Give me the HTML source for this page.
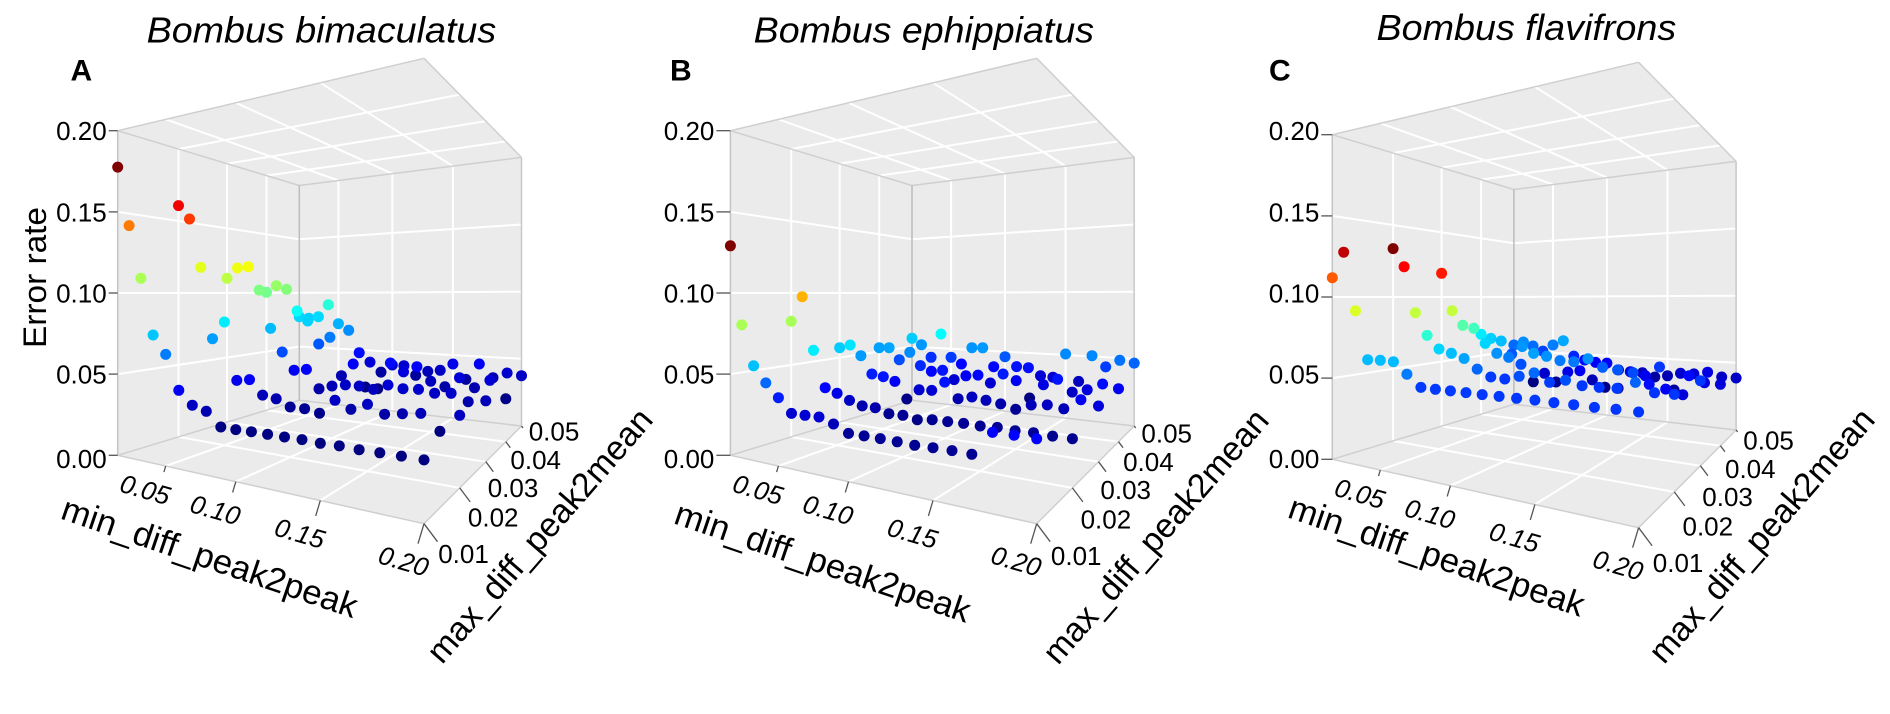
<!DOCTYPE html>
<html lang="en">
<head>
<meta charset="utf-8">
<title>Bombus error rate 3D scatter plots</title>
<style>
html,body{margin:0;padding:0;background:#fff;width:1890px;height:714px;overflow:hidden}
svg{display:block}
text{font-family:"Liberation Sans",sans-serif;fill:#000}
</style>
</head>
<body>
<svg id="figure" xmlns="http://www.w3.org/2000/svg" width="1890" height="714" viewBox="0 0 1890 714">
  <rect x="0" y="0" width="1890" height="714" fill="#fff"/>
  <g id="panel-a"></g>
  <g id="panel-b"></g>
  <g id="panel-c"></g>
  <text x="146.6" y="42.7" font-size="36" font-style="italic" textLength="349.6" lengthAdjust="spacingAndGlyphs">Bombus bimaculatus</text>
  <text x="753.7" y="42.7" font-size="36" font-style="italic" textLength="340.3" lengthAdjust="spacingAndGlyphs">Bombus ephippiatus</text>
  <text x="1376.5" y="40" font-size="36" font-style="italic" textLength="299.7" lengthAdjust="spacingAndGlyphs">Bombus flavifrons</text>
  <text x="70.5" y="80.7" font-size="30" font-weight="bold">A</text>
  <text x="670" y="80.3" font-size="30" font-weight="bold">B</text>
  <text x="1269" y="80.3" font-size="30" font-weight="bold">C</text>
  <text font-size="32" text-anchor="middle" textLength="141" lengthAdjust="spacingAndGlyphs" transform="translate(46.2 277.5) rotate(-90)">Error rate</text>
</svg>
<script>
// Axis definitions
const minDiffValues = [0.01,0.02,0.03,0.04,0.05,0.06,0.07,0.08,0.09,0.10,0.11,0.12,0.13,0.14,0.15,0.16,0.17,0.18,0.19,0.20];
const maxDiffValues = [0.01,0.02,0.03,0.04,0.05];
const errorTickValues = [0.00,0.05,0.10,0.15,0.20];
const errorTickLabels = ["0.00","0.05","0.10","0.15","0.20"];
const minDiffTickValues = [0.05,0.10,0.15,0.20];
const minDiffTickLabels = ["0.05","0.10","0.15","0.20"];
const maxDiffTickValues = [0.01,0.02,0.03,0.04,0.05];
const maxDiffTickLabels = ["0.01","0.02","0.03","0.04","0.05"];

// Panel A: error rate by min_diff for each max_diff
const bimaculatus001 = [.1776,.1408,.1087,.0752,.0644,.0446,.0372,.0349,.0276,.0275,.0277,.0277,.0277,.0278,.0274,.0276,.0273,.0274,.0275,.0274];
const bimaculatus002 = [.1607,.1506,.1172,.0694,.0808,.0433,.0446,.0357,.0344,.0304,.0305,.0289,.0375,.0334,.0373,.0329,.0343,.0356,.0275,.0369];
const bimaculatus003 = [.1113,.1190,.1197,.1020,.0738,.0570,.0445,.0458,.0330,.0358,.0374,.0375,.0362,.0399,.0384,.0389,.0374,.0383,.0342,.0358];
const bimaculatus004 = [.1005,.1060,.1029,.0850,.0770,.0587,.0645,.0348,.0446,.0277,.0273,.0473,.0414,.0459,.0362,.0331,.0403,.0342,.0401,.0286];
const bimaculatus005 = [.0778,.0766,.0782,.0892,.0723,.0668,.0475,.0400,.0321,.0388,.0389,.0316,.0356,.0372,.0429,.0315,.0442,.0344,.0387,.0374];

// Panel B
const ephippiatus001 = [.1291,.0806,.0565,.0471,.0394,.0315,.0316,.0318,.0292,.0255,.0255,.0255,.0253,.0250,.0253,.0254,.0252,.0366,.0367,.0365];
const ephippiatus002 = [.0803,.0974,.0612,.0368,.0340,.0304,.0279,.0278,.0252,.0254,.0239,.0251,.0252,.0254,.0252,.0257,.0252,.0254,.0250,.0250];
const ephippiatus003 = [.0576,.0602,.0526,.0395,.0383,.0357,.0239,.0314,.0319,.0385,.0281,.0302,.0290,.0277,.0253,.0291,.0302,.0289,.0354,.0327];
const ephippiatus004 = [.0533,.0538,.0443,.0510,.0407,.0368,.0383,.0317,.0355,.0368,.0316,.0391,.0350,.0232,.0337,.0384,.0303,.0328,.0376,.0353];
const ephippiatus005 = [.0577,.0522,.0412,.0628,.0424,.0370,.0519,.0523,.0367,.0458,.0381,.0379,.0320,.0316,.0508,.0299,.0506,.0426,.0483,.0468];

// Panel C
const flavifrons001 = [.1119,.1271,.0917,.0631,.0633,.0631,.0567,.0502,.0500,.0500,.0500,.0499,.0499,.0499,.0500,.0498,.0498,.0496,.0498,.0497];
const flavifrons002 = [.1336,.1207,.0893,.0743,.0657,.0634,.0606,.0545,.0503,.0498,.0522,.0549,.0502,.0522,.0499,.0498,.0501,.0541,.0495,.0496];
const flavifrons003 = [.1183,.0894,.0785,.0765,.0657,.0589,.0566,.0522,.0604,.0589,.0565,.0564,.0589,.0539,.0529,.0518,.0454,.0433,.0408,.0499];
const flavifrons004 = [.0681,.0650,.0632,.0529,.0594,.0316,.0391,.0330,.0415,.0432,.0369,.0322,.0323,.0449,.0430,.0499,.0345,.0452,.0412,.0409];
const flavifrons005 = [.0552,.0584,.0551,.0510,.0569,.0611,.0481,.0452,.0438,.0438,.0387,.0379,.0377,.0350,.0367,.0394,.0396,.0416,.0387,.0387];

const NS = "http://www.w3.org/2000/svg";
const xMin = 0.01, xMax = 0.20, yMin = 0.01, yMax = 0.05, zMax = 0.20;

function mk(tag, attrs, parent) {
  const el = document.createElementNS(NS, tag);
  for (const k in attrs) el.setAttribute(k, attrs[k]);
  parent.appendChild(el);
  return el;
}
function jet(t) {
  const c = v => Math.round(255 * Math.max(0, Math.min(1, v)));
  return "rgb(" + c(1.5 - Math.abs(4*t - 3)) + "," + c(1.5 - Math.abs(4*t - 2)) + "," + c(1.5 - Math.abs(4*t - 1)) + ")";
}
// Perspective axis function: data coordinates to screen coordinates
function projector(ox, oy) {
  return function (x, y, z) {
    const u = (x - xMin) / (xMax - xMin);
    const v = (y - yMin) / (yMax - yMin);
    const w = z / zMax;
    const d = 1 - 0.3026*u + 0.5112*v;
    return [(178*u + 334.6*v + 117.7)/d + ox, (-90.07*u + 149.6*v + 455.3 - 324.6*w)/d + oy];
  };
}
function polyPoints(list) {
  return list.map(p => p[0].toFixed(1) + "," + p[1].toFixed(1)).join(" ");
}
function segment(parent, a, b, color, width) {
  return mk("line", {x1:a[0].toFixed(1), y1:a[1].toFixed(1), x2:b[0].toFixed(1), y2:b[1].toFixed(1), stroke:color, "stroke-width":width}, parent);
}

const gridX = [0.05,0.10,0.15];
const gridY = [0.02,0.03,0.04];
const gridZ = [0.05,0.10,0.15];

function drawPanel(cfg) {
  const g = document.getElementById(cfg.id);
  const P = projector(cfg.ox, cfg.oy);
  const faces = [
    ["floor", [P(xMin,yMin,0),P(xMax,yMin,0),P(xMax,yMax,0),P(xMin,yMax,0)]],
    ["ceiling", [P(xMin,yMin,zMax),P(xMax,yMin,zMax),P(xMax,yMax,zMax),P(xMin,yMax,zMax)]],
    ["left-wall", [P(xMin,yMin,0),P(xMin,yMax,0),P(xMin,yMax,zMax),P(xMin,yMin,zMax)]],
    ["right-wall", [P(xMin,yMax,0),P(xMax,yMax,0),P(xMax,yMax,zMax),P(xMin,yMax,zMax)]]
  ];
  faces.forEach(f => {
    const el = mk("polygon", {points: polyPoints(f[1]), fill:"#ebebeb"}, g);
    
    
  });

  const gridGroup = mk("g", {}, g);
  
  
  const W = "#ffffff", GW = 2;
  gridX.forEach(x => {
    segment(gridGroup, P(x,yMin,0), P(x,yMax,0), W, GW);
    segment(gridGroup, P(x,yMin,zMax), P(x,yMax,zMax), W, GW);
    segment(gridGroup, P(x,yMax,0), P(x,yMax,zMax), W, GW);
  });
  gridY.forEach(y => {
    segment(gridGroup, P(xMin,y,0), P(xMax,y,0), W, GW);
    segment(gridGroup, P(xMin,y,zMax), P(xMax,y,zMax), W, GW);
    segment(gridGroup, P(xMin,y,0), P(xMin,y,zMax), W, GW);
  });
  gridZ.forEach(z => {
    segment(gridGroup, P(xMin,yMin,z), P(xMin,yMax,z), W, GW);
    segment(gridGroup, P(xMin,yMax,z), P(xMax,yMax,z), W, GW);
  });

  const edgeGroup = mk("g", {}, g);
  
  
  const E = "#cfcfcf", EW = 1.5;
  segment(edgeGroup, P(xMin,yMin,0), P(xMax,yMin,0), E, EW);
  segment(edgeGroup, P(xMax,yMin,0), P(xMax,yMax,0), E, EW);
  segment(edgeGroup, P(xMax,yMax,0), P(xMin,yMax,0), E, EW);
  segment(edgeGroup, P(xMin,yMax,0), P(xMin,yMin,0), E, EW);
  segment(edgeGroup, P(xMin,yMin,zMax), P(xMax,yMin,zMax), E, EW);
  segment(edgeGroup, P(xMax,yMin,zMax), P(xMax,yMax,zMax), E, EW);
  segment(edgeGroup, P(xMax,yMax,zMax), P(xMin,yMax,zMax), E, EW);
  segment(edgeGroup, P(xMin,yMax,zMax), P(xMin,yMin,zMax), E, EW);
  segment(edgeGroup, P(xMin,yMin,0), P(xMin,yMin,zMax), "#c4c4c4", EW);
  segment(edgeGroup, P(xMin,yMax,0), P(xMin,yMax,zMax), "#bcbcbc", EW);
  segment(edgeGroup, P(xMax,yMax,0), P(xMax,yMax,zMax), "#c8c8c8", EW);

  // Error-rate axis
  errorTickValues.forEach((val, i) => {
    const p = P(xMin, yMin, val);
    const tick = segment(g, [p[0]-cfg.zTick, p[1]], p, "#555", 1.3);
    
    
    const t = mk("text", {x:(p[0]-cfg.zTick-2).toFixed(1), y:(p[1]+9.5+(i===0?3:0)-cfg.oy).toFixed(1), "font-size":26, "text-anchor":"end"}, g);
    t.textContent = errorTickLabels[i];
    
    
  });

  // min_diff_peak2peak axis
  minDiffTickValues.forEach((val, i) => {
    const p = P(val, yMin, 0);
    const L = 1.4 + 93*val;
    const tick = segment(g, p, [p[0]-0.3*L, p[1]+L], "#555", 1.3);
    
    
    const cx = p[0] - 20.5, cy = p[1] + 19 + 92*val;
    const t = mk("text", {"font-size":26, "font-style":"italic", "text-anchor":"middle", transform:"translate(" + cx.toFixed(1) + " " + cy.toFixed(1) + ") rotate(16)", y:9}, g);
    t.textContent = minDiffTickLabels[i];
    
    
  });

  // max_diff_peak2mean axis
  const labelShift = {0:[41,30], 1:[35,29], 2:[28.7,25.7], 3:[31.4,18], 4:[34,5]};
  maxDiffTickValues.forEach((val, i) => {
    const p = P(xMax, val, 0);
    const dy = 2 + (yMax - val)*400;
    const tick = segment(g, p, [p[0]+0.75*dy, p[1]+dy], "#555", 1.3);
    
    
    const s = labelShift[i];
    const t = mk("text", {x:(p[0]+s[0]-1.5).toFixed(1), y:(p[1]+s[1]+9.5+cfg.labelDy).toFixed(1), "font-size":26, "text-anchor":"middle"}, g);
    t.textContent = maxDiffTickLabels[i];
    
    
  });

  const xTitle = mk("text", {"font-size":34, textLength:310, lengthAdjust:"spacingAndGlyphs", transform:"translate(" + cfg.xTitle[0] + " " + cfg.xTitle[1] + ") rotate(18.8)"}, g);
  xTitle.textContent = "min_diff_peak2peak";
  
  
  const yTitle = mk("text", {"font-size":34, textLength:324, lengthAdjust:"spacingAndGlyphs", transform:"translate(" + cfg.yTitle[0] + " " + cfg.yTitle[1] + ") rotate(-49)"}, g);
  yTitle.textContent = "max_diff_peak2mean";
  
  

  // Points: back row first; colour runs from the panel's lowest to highest error rate
  const all = [].concat.apply([], cfg.rows);
  const lo = Math.min.apply(null, all), hi = Math.max.apply(null, all);
  const dots = mk("g", {}, g);
  
  
  for (let r = cfg.rows.length - 1; r >= 0; r--) {
    cfg.rows[r].forEach((val, c) => {
      const p = P(minDiffValues[c], maxDiffValues[r], val);
      const dot = mk("circle", {cx:p[0].toFixed(1), cy:p[1].toFixed(1), r:5.5, fill:jet((val-lo)/(hi-lo))}, dots);
      
      
    });
  }
}

drawPanel({id:"panel-a", ox:0, oy:0, zTick:9, labelDy:0, xTitle:[59.3,518.3], yTitle:[442,665.3],
  rows:[bimaculatus001,bimaculatus002,bimaculatus003,bimaculatus004,bimaculatus005]});
drawPanel({id:"panel-b", ox:612.7, oy:0, zTick:14, labelDy:2, xTitle:[672.4,523], yTitle:[1058,666],
  rows:[ephippiatus001,ephippiatus002,ephippiatus003,ephippiatus004,ephippiatus005]});
drawPanel({id:"panel-c", ox:1214.6, oy:4, zTick:11, labelDy:5, xTitle:[1286.3,517], yTitle:[1664,665.3],
  rows:[flavifrons001,flavifrons002,flavifrons003,flavifrons004,flavifrons005]});
</script>
</body>
</html>
